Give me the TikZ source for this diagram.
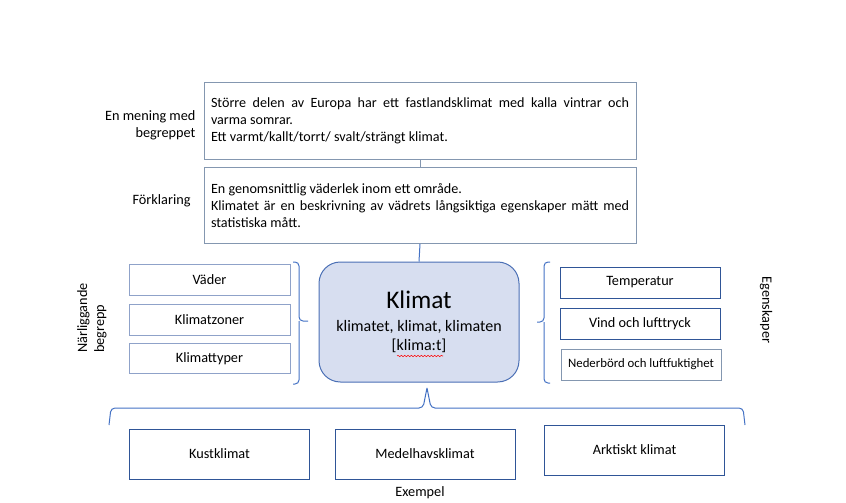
\documentclass[tikz,border=0pt]{standalone}
\usepackage{fontspec}
\setmainfont{Carlito}
\usetikzlibrary{positioning,decorations.pathmorphing}

\definecolor{boxgray}{HTML}{8497B0}
\definecolor{boxlight}{HTML}{8FA2C9}
\definecolor{boxdark}{HTML}{2F5597}
\definecolor{bracecol}{HTML}{4472C4}
\definecolor{centerfill}{HTML}{D7DEF0}
\definecolor{centerline}{HTML}{4A6FB5}

\begin{document}
\begin{tikzpicture}[
  x=0.75pt, y=-0.75pt,
  line width=0.75pt,
  textbox/.style={draw=boxgray, rectangle, text width=313.5pt, inner xsep=5.25pt,
    minimum height=57pt, align=justify, font=\fontsize{10.6}{12.9}\selectfont},
  leftbox/.style={draw=boxlight, rectangle, minimum width=120.75pt, minimum height=23pt,
    inner sep=0pt, font=\fontsize{10.7}{12}\selectfont},
  rightbox/.style={draw=boxdark, rectangle, minimum width=120pt, minimum height=23.25pt,
    inner sep=0pt, font=\fontsize{10.7}{12}\selectfont},
  exbox/.style={draw=boxdark, rectangle, minimum width=135pt, minimum height=37.5pt,
    inner sep=0pt, font=\fontsize{10.7}{12}\selectfont},
  sidelabel/.style={font=\fontsize{10.7}{12.75}\selectfont, inner sep=0pt},
  brace/.style={draw=bracecol, rounded corners=3pt}
]
  \useasboundingbox (0,0) rectangle (846,503);

  % top boxes
  \node[textbox] (M) at (420,121) {Större delen av Europa har ett fastlandsklimat med kalla vintrar och\linebreak
    varma somrar.\\ Ett varmt/kallt/torrt/ svalt/strängt klimat.};
  \node[textbox] (F) at (420,205.5) {En genomsnittlig väderlek inom ett område.\\
    Klimatet är en beskrivning av vädrets långsiktiga egenskaper mätt med\linebreak statistiska mått.};
  \node[sidelabel, anchor=east, align=right] (Ml) at (196,125) {En mening med\\ begreppet};
  \node[sidelabel, anchor=east] (Fl) at (191,201) {Förklaring};

  % center
  \node[draw=centerline, fill=centerfill, rounded corners=16pt, minimum width=150pt,
    minimum height=90pt, align=center, inner sep=0pt,
    font=\fontsize{12}{14.3}\selectfont] (K) at (419,322)
    {{\fontsize{19}{22}\selectfont Klimat}\\[3pt]
     klimatet, klimat, klimaten\\
     {[}klima:t{]}};
  \draw[red, line width=0.4pt, decorate, decoration={snake, amplitude=0.5pt, segment length=2.5pt}]
    (397,356) -- (443,356);

  \draw[draw=boxgray] (M.south) -- (F.north);
  \draw[draw=bracecol] (F.south) -- (K.north);

  % left column
  \node[leftbox] (V) at (209.5,280) {Väder};
  \node[leftbox] (Z) at (209.5,320) {Klimatzoner};
  \node[leftbox] (T) at (209.5,358.5) {Klimattyper};
  \node[sidelabel, rotate=90, align=left] (N) at (92,318) {Närliggande\\ begrepp};
  \draw[brace] (293,262) -- (299,262) -- (299,321) -- (308,321)
    (299,321) -- (299,384) -- (293,384);

  % right column
  \node[rightbox] (Te) at (640,282.5) {Temperatur};
  \node[rightbox] (Vi) at (640,323.5) {Vind och lufttryck};
  \node[rightbox, draw=boxgray, font=\fontsize{9.6}{11}\selectfont] (Ne) at (641,364.5)
    {Nederbörd och luftfuktighet};
  \node[sidelabel, rotate=-90] (E) at (766,310) {Egenskaper};
  \draw[brace] (550,262) -- (544,262) -- (544,322) -- (537,322)
    (544,322) -- (544,383) -- (550,383);

  % examples
  \node[exbox] (Ku) at (219.5,454) {Kustklimat};
  \node[exbox] (Me) at (425,454) {Medelhavsklimat};
  \node[exbox] (Ar) at (634.5,450) {Arktiskt klimat};
  \node[sidelabel] (Ex) at (420,493) {Exempel};
  \draw[brace] (109,425) -- (111,408) -- (423,408) -- (427,388)
    (427,388) -- (431,408) -- (743,408) -- (745,425);
\end{tikzpicture}
\end{document}
